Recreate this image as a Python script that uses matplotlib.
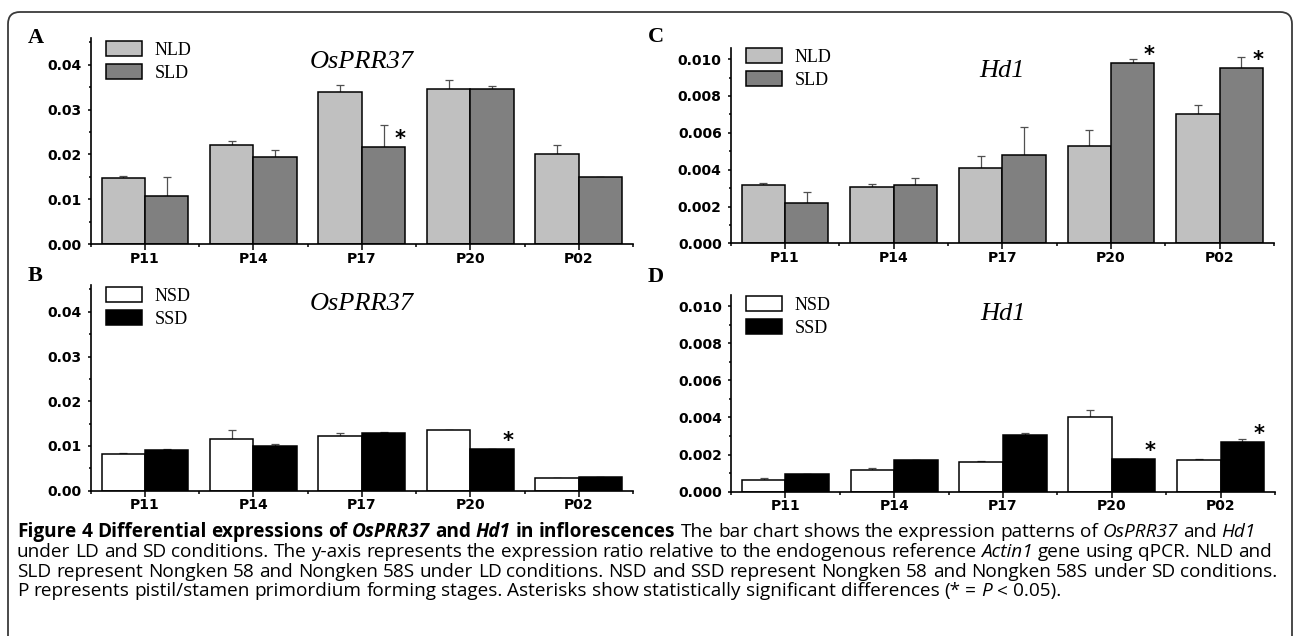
import numpy as np
import matplotlib
matplotlib.use('Agg')
import matplotlib.pyplot as plt
from matplotlib.patches import FancyBboxPatch
from matplotlib.transforms import IdentityTransform
from matplotlib.ticker import MultipleLocator, FormatStrFormatter

stages = ['P11', 'P14', 'P17', 'P20', 'P02']

# OsPRR37 under LD
nld_osprr37 = [0.0147, 0.0222, 0.0339, 0.0346, 0.0202]
nld_osprr37_err = [0.0004, 0.0008, 0.0016, 0.0020, 0.0018]
sld_osprr37 = [0.0108, 0.0195, 0.0216, 0.0346, 0.0150]
sld_osprr37_err = [0.0042, 0.0014, 0.0050, 0.0006, 0.0]
# OsPRR37 under SD
nsd_osprr37 = [0.0081, 0.0116, 0.0122, 0.0135, 0.0028]
nsd_osprr37_err = [0.0003, 0.0019, 0.0007, 0.0, 0.0]
ssd_osprr37 = [0.0091, 0.0101, 0.0129, 0.0093, 0.0030]
ssd_osprr37_err = [0.0003, 0.0004, 0.0003, 0.0, 0.0]
# Hd1 under LD
nld_hd1 = [0.00319, 0.00309, 0.00410, 0.00528, 0.00704]
nld_hd1_err = [0.00011, 0.00016, 0.00064, 0.00087, 0.00047]
sld_hd1 = [0.00218, 0.00316, 0.00479, 0.00976, 0.00951]
sld_hd1_err = [0.00062, 0.00040, 0.00153, 0.00024, 0.00062]
# Hd1 under SD
nsd_hd1 = [0.00063, 0.00117, 0.00160, 0.00402, 0.00171]
nsd_hd1_err = [0.00011, 0.00013, 0.00008, 0.00038, 0.00006]
ssd_hd1 = [0.00094, 0.00173, 0.00306, 0.00177, 0.00268]
ssd_hd1_err = [0.0, 0.0, 0.00009, 0.0, 0.00018]

# stages with significant difference (asterisk on second bar)
sig_a = [2]
sig_b = [3]
sig_c = [3, 4]
sig_d = [3, 4]

caption_lines = [
    [("Figure 4 Differential expressions of", "bold", "normal"), ("OsPRR37", "bold", "italic"),
     ("and", "bold", "normal"), ("Hd1", "bold", "italic"), ("in inflorescences", "bold", "normal"),
     ("The bar chart shows the expression patterns of", "normal", "normal"),
     ("OsPRR37", "normal", "italic"), ("and", "normal", "normal"), ("Hd1", "normal", "italic")],
    [("under LD and SD conditions. The y-axis represents the expression ratio relative to the endogenous reference",
      "normal", "normal"), ("Actin1", "normal", "italic"), ("gene using qPCR. NLD and", "normal", "normal")],
    [("SLD represent Nongken 58 and Nongken 58S under LD conditions. NSD and SSD represent Nongken 58 and "
      "Nongken 58S under SD conditions.", "normal", "normal")],
    [("P represents pistil/stamen primordium forming stages. Asterisks show statistically significant "
      "differences (* =", "normal", "normal"), ("P", "normal", "italic"), ("< 0.05).", "normal", "normal")],
]

W, H = 1295, 636
fig = plt.figure(figsize=(W / 100, H / 100), dpi=100)

SERIF = 'Liberation Serif'
TICKFONT = {'family': 'DejaVu Sans', 'weight': 'bold', 'size': 10}


def draw_panel(rect, v1, e1, v2, e2, c1, c2, names, gene, sig, ymax, step, fmt, leg_y, title_y):
    ax = fig.add_axes(rect)
    x = np.arange(len(stages))
    w = 0.4
    ax.bar(x - w / 2, v1, w, color=c1, edgecolor='black', linewidth=1.1, label=names[0], zorder=2)
    ax.bar(x + w / 2, v2, w, color=c2, edgecolor='black', linewidth=1.1, label=names[1], zorder=2)
    for xs, v, e in ((x - w / 2, v1, e1), (x + w / 2, v2, e2)):
        ax.errorbar(xs, v, yerr=[np.zeros(len(v)), e], fmt='none', ecolor='#505050',
                    elinewidth=0.9, capsize=3, capthick=0.9, zorder=1)
    for i in sig:
        ax.annotate('*', xy=(x[i] + w / 2 + 0.15, v2[i]), xytext=(0, 8), textcoords='offset pixels',
                    ha='center', va='center', fontsize=15, fontweight='bold', family='DejaVu Sans')

    ax.set_xlim(-0.5, len(stages) - 0.5)
    ax.set_ylim(0, ymax)
    ax.set_xticks(x)
    ax.set_xticklabels(stages, fontdict=TICKFONT)
    ax.set_xticks(np.arange(-0.5, len(stages), 1), minor=True)
    ax.yaxis.set_major_locator(MultipleLocator(step))
    ax.yaxis.set_minor_locator(MultipleLocator(step / 2))
    ax.yaxis.set_major_formatter(FormatStrFormatter(fmt))
    for lab in ax.get_yticklabels():
        lab.set_fontfamily(TICKFONT['family'])
        lab.set_fontweight(TICKFONT['weight'])
        lab.set_fontsize(TICKFONT['size'])
    ax.tick_params(axis='x', which='major', length=4, width=1.1, pad=1.5)
    ax.tick_params(axis='x', which='minor', length=2.5, width=1.1)
    ax.tick_params(axis='y', which='major', length=2.5, width=1.1, pad=4)
    ax.tick_params(axis='y', which='minor', length=1.8, width=1.1)
    for s in ['top', 'right']:
        ax.spines[s].set_visible(False)
    for s in ['left', 'bottom']:
        ax.spines[s].set_linewidth(1.2)

    ax.legend(loc='upper left', bbox_to_anchor=(0.028, leg_y), frameon=False,
              prop={'family': SERIF, 'size': 13}, handlelength=2.0, handleheight=0.9,
              handletextpad=0.7, labelspacing=0.3, borderpad=0, borderaxespad=0)
    ax.text(0.5, title_y, gene, transform=ax.transAxes, ha='center', va='baseline',
            fontsize=19, family=SERIF, style='italic')
    return ax


def px_rect(left, right, bottom, top):
    return [left / W, 1 - bottom / H, (right - left) / W, (bottom - top) / H]


draw_panel(px_rect(90.7, 633, 244, 38), nld_osprr37, nld_osprr37_err, sld_osprr37, sld_osprr37_err,
           '#c0c0c0', '#808080', ['NLD', 'SLD'], 'OsPRR37', sig_a, 0.046, 0.01, '%.2f', 0.985, 0.854)
draw_panel(px_rect(90.7, 633, 490.7, 285), nsd_osprr37, nsd_osprr37_err, ssd_osprr37, ssd_osprr37_err,
           'white', 'black', ['NSD', 'SSD'], 'OsPRR37', sig_b, 0.046, 0.01, '%.2f', 0.99, 0.878)
draw_panel(px_rect(730.7, 1274, 243.5, 48), nld_hd1, nld_hd1_err, sld_hd1, sld_hd1_err,
           '#c0c0c0', '#808080', ['NLD', 'SLD'], 'Hd1', sig_c, 0.0106, 0.002, '%.3f', 1.0, 0.851)
draw_panel(px_rect(731, 1275, 491.7, 295), nsd_hd1, nsd_hd1_err, ssd_hd1, ssd_hd1_err,
           'white', 'black', ['NSD', 'SSD'], 'Hd1', sig_d, 0.0106, 0.002, '%.3f', 0.995, 0.873)

# panel letters
for letter, px, py in [('A', 28, 43), ('B', 28, 281), ('C', 648, 42), ('D', 648, 282)]:
    fig.text(px / W, 1 - py / H, letter, family=SERIF, fontweight='bold', fontsize=16, va='baseline')

# rounded frame
frame = FancyBboxPatch((8, -30), 1284, H - 12 + 30, boxstyle='round,pad=0,rounding_size=12',
                       transform=IdentityTransform(), fill=False, edgecolor='#3a3a3a', linewidth=1.3)
fig.add_artist(frame)

# caption, word by word so bold / italic runs can mix
renderer = fig.canvas.get_renderer()
CAPFONT = 'Open Sans'


def text_width(s, size, weight='normal', style='normal'):
    t = fig.text(0, 0, s, fontsize=size, fontweight=weight, fontstyle=style, family=CAPFONT)
    wd = t.get_window_extent(renderer).width
    t.remove()
    return wd


probe = ' '.join(seg[0] for seg in caption_lines[2])
cap_size = 10 * 1263 / text_width(probe, 10)
space_w = text_width('a a', cap_size) - text_width('aa', cap_size)

baselines = [537, 557, 577, 596]
for segs, yb in zip(caption_lines, baselines):
    xp = 17
    for text, weight, style in segs:
        for word in text.split():
            t = fig.text(xp / W, 1 - yb / H, word, fontsize=cap_size, fontweight=weight,
                         fontstyle=style, family=CAPFONT, va='baseline')
            xp += t.get_window_extent(renderer).width + space_w

fig.savefig('out.png', dpi=100)
